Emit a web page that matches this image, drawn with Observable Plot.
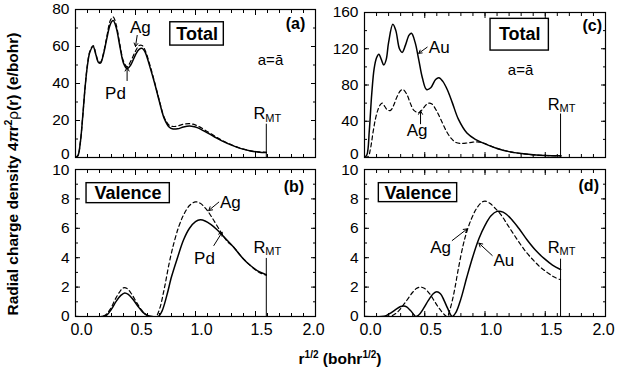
<!DOCTYPE html>
<html><head><meta charset="utf-8">
<script src="https://cdn.jsdelivr.net/npm/d3@7"></script>
<script src="https://cdn.jsdelivr.net/npm/@observablehq/plot@0.6"></script>
<style>
body{margin:0;background:#fff;}
#chart{position:relative;width:633px;height:379px;overflow:hidden;font-family:"Liberation Sans",Arial,Helvetica,sans-serif;color:#000;}
#chart svg{position:absolute;}
.ytitle{position:absolute;left:13px;top:174px;transform:translate(-50%,-50%) rotate(-90deg);white-space:nowrap;font-weight:bold;font-size:15.5px;}
.xtitle{position:absolute;left:340px;top:359px;transform:translate(-50%,-50%);white-space:nowrap;font-weight:bold;font-size:15.5px;}
.sup{font-size:10px;position:relative;top:-6px;}
</style></head><body><div id="chart"></div>
<script>
// ---------- data ----------
// axis ticks
const xTickLabels = [0, 0.5, 1.0, 1.5, 2.0];
const yTicksTotalA = [0, 20, 40, 60, 80];
const yTicksTotalC = [0, 40, 80, 120, 160];
const yTicksValence = [0, 2, 4, 6, 8, 10];

// (a) Total, Pd (solid) and Ag (dashed)
const aX = [0, 0.02, 0.04, 0.06, 0.08, 0.10, 0.12, 0.147, 0.17, 0.19, 0.208, 0.23, 0.26, 0.29, 0.314, 0.34, 0.37, 0.40, 0.43, 0.46, 0.50, 0.53, 0.556, 0.58, 0.62, 0.66, 0.70, 0.74, 0.78, 0.806, 0.85, 0.90, 0.95, 0.98, 1.02, 1.08, 1.15, 1.22, 1.30, 1.38, 1.46, 1.53, 1.59];
const aPd = [0, 1, 8, 22, 38, 50, 57, 60, 55.5, 51.5, 51, 55, 64, 72, 74, 70, 60, 51, 48, 50, 55.5, 58.5, 59, 57, 49, 40, 30, 21, 16.5, 15.5, 15.5, 16.5, 17, 16.8, 16, 14, 11.5, 9, 6.7, 4.8, 3.5, 2.9, 2.7];
const aAg = [0, 1, 8, 22, 38, 50.5, 57.5, 60.5, 56, 52, 51.5, 55.5, 65, 74, 76, 71.5, 61, 52, 49, 52, 57.5, 60.5, 60.5, 58, 50, 40.5, 30.5, 21.5, 17.5, 16.8, 17, 18, 18.3, 18, 17, 14.8, 12, 9.3, 6.9, 4.9, 3.6, 3.0, 2.8];

// (b) Valence, Pd (solid) and Ag (dashed)
const bXPd = [0, 0.22, 0.26, 0.30, 0.34, 0.38, 0.41, 0.44, 0.48, 0.52, 0.56, 0.60, 0.64, 0.69, 0.72, 0.76, 0.80, 0.85, 0.90, 0.95, 1.00, 1.04, 1.08, 1.13, 1.18, 1.25, 1.32, 1.39, 1.46, 1.53, 1.59];
const bPd = [0, 0, 0.1, 0.5, 1.05, 1.45, 1.6, 1.5, 1.15, 0.7, 0.3, 0.07, 0, 0, 0.35, 1.4, 2.7, 4.0, 5.2, 6.0, 6.45, 6.58, 6.5, 6.25, 5.9, 5.3, 4.7, 4.0, 3.45, 3.05, 2.85];
const bXAg = [0, 0.22, 0.25, 0.29, 0.33, 0.37, 0.40, 0.43, 0.47, 0.51, 0.55, 0.59, 0.63, 0.67, 0.70, 0.74, 0.78, 0.82, 0.86, 0.90, 0.95, 1.00, 1.04, 1.09, 1.14, 1.20, 1.26, 1.32, 1.39, 1.46, 1.53, 1.59];
const bAg = [0, 0, 0.1, 0.5, 1.15, 1.7, 1.95, 1.9, 1.5, 0.95, 0.45, 0.12, 0, 0, 0.5, 1.9, 3.6, 5.0, 6.1, 6.9, 7.55, 7.8, 7.7, 7.3, 6.7, 5.9, 5.15, 4.7, 4.0, 3.45, 3.0, 2.8];

// (c) Total, Au (solid) and Ag (dashed)
const cXAu = [0, 0.02, 0.04, 0.06, 0.08, 0.10, 0.119, 0.14, 0.16, 0.18, 0.20, 0.235, 0.26, 0.29, 0.313, 0.34, 0.37, 0.39, 0.42, 0.45, 0.48, 0.515, 0.55, 0.59, 0.617, 0.65, 0.69, 0.73, 0.78, 0.85, 0.92, 1.0, 1.1, 1.2, 1.3, 1.4, 1.5, 1.63];
const cAu = [0, 3, 30, 70, 98, 110, 114, 108, 102, 108, 127, 147, 140, 120, 116, 124, 135, 137, 127, 108, 88, 75, 77, 86, 88, 84, 74, 60, 42, 27, 20, 15, 10, 6.5, 4.3, 3, 2.2, 1.8];
const cXAg = [0, 0.03, 0.05, 0.07, 0.09, 0.11, 0.13, 0.147, 0.17, 0.19, 0.216, 0.24, 0.27, 0.30, 0.32, 0.35, 0.38, 0.41, 0.45, 0.48, 0.51, 0.534, 0.56, 0.60, 0.64, 0.68, 0.72, 0.76, 0.80, 0.85, 0.90, 0.935, 0.98, 1.05, 1.1, 1.2, 1.3, 1.4, 1.5, 1.63];
const cAg = [0, 1, 10, 27, 42, 52, 58, 60, 56, 52.5, 52, 57, 67, 74, 75, 70, 60, 52, 49.5, 53, 58, 60, 59, 51, 40, 29, 21, 16.5, 15.5, 16, 17, 17.2, 16.3, 12.5, 10, 6.5, 4.3, 3, 2.2, 1.8];

// (d) Valence, Au (solid) and Ag (dashed)
const dXAu = [0, 0.14, 0.18, 0.22, 0.26, 0.30, 0.326, 0.35, 0.38, 0.41, 0.423, 0.45, 0.49, 0.53, 0.57, 0.60, 0.63, 0.66, 0.69, 0.728, 0.76, 0.80, 0.85, 0.90, 0.95, 1.00, 1.05, 1.10, 1.15, 1.21, 1.28, 1.35, 1.42, 1.49, 1.56, 1.627];
const dAu = [0, 0, 0.06, 0.25, 0.48, 0.68, 0.72, 0.65, 0.42, 0.12, 0, 0.1, 0.55, 1.1, 1.55, 1.68, 1.55, 1.1, 0.55, 0, 0.3, 1.2, 2.7, 4.1, 5.3, 6.2, 6.85, 7.15, 7.1, 6.7, 6.0, 5.2, 4.5, 3.95, 3.5, 3.2];
const dXAg = [0, 0.2, 0.24, 0.28, 0.32, 0.36, 0.40, 0.43, 0.465, 0.50, 0.54, 0.58, 0.62, 0.66, 0.686, 0.71, 0.74, 0.78, 0.82, 0.85, 0.89, 0.93, 0.97, 1.0, 1.04, 1.08, 1.13, 1.19, 1.27, 1.34, 1.405, 1.46, 1.516, 1.57, 1.627];
const dAg = [0, 0, 0.1, 0.35, 0.75, 1.2, 1.65, 1.9, 2.0, 1.9, 1.55, 1.05, 0.55, 0.15, 0, 0.5, 1.5, 3.3, 4.9, 5.8, 6.7, 7.35, 7.75, 7.85, 7.7, 7.4, 6.95, 6.2, 5.2, 4.4, 3.8, 3.35, 3.0, 2.7, 2.5];

// muffin-tin radii (r^1/2)
const rmtAB = 1.59;
const rmtCD = 1.627;

// ---------- drawing ----------
const FONT = '"Liberation Sans", Arial, Helvetica, sans-serif';
const toPts = (xs, ys) => xs.map((x, i) => ({x, y: ys[i]}));

function panel(cfg) {
  const ML = 45, MR = 14, MT = 14, MB = 32;
  const xMinor = d3.range(0, 21).map(i => i / 10);
  const yMinor = d3.range(0, cfg.yMajor.length * 2 - 1).map(i => i * (cfg.yMajor[1] - cfg.yMajor[0]) / 2);
  const empty = () => "";
  const marks = [];
  // box around panel title
  marks.push(Plot.rect([cfg.box], {x1: "x1", x2: "x2", y1: "y1", y2: "y2", fill: "white", stroke: "black", strokeWidth: 1.4}));
  // curves
  for (const s of cfg.series) {
    marks.push(Plot.line(s.pts, {x: "x", y: "y", curve: "catmull-rom", stroke: "black",
      strokeWidth: s.dash ? 1.2 : 1.5, strokeDasharray: s.dash ? "4,3" : null, clip: true}));
  }
  // R_MT rule
  marks.push(Plot.ruleX([cfg.rmt], {x: "x", y1: 0, y2: "top", stroke: "black", strokeWidth: 1}));
  marks.push(Plot.text([cfg.rmt], {x: "x", y: "ly", text: () => "R", textAnchor: "end", dx: -1, fontSize: 16.5}));
  marks.push(Plot.text([cfg.rmt], {x: "x", y: "ly", text: () => "MT", textAnchor: "start", dx: -1, dy: 4, fontSize: 11}));
  // arrows
  marks.push(Plot.arrow(cfg.arrows, {x1: "x1", y1: "y1", x2: "x2", y2: "y2", stroke: "black", strokeWidth: 1, headLength: 6}));
  // texts
  for (const t of cfg.texts) {
    marks.push(Plot.text([t], {x: "x", y: "y", text: "t", fontSize: t.size || 16,
      fontWeight: t.bold ? "bold" : "normal", textAnchor: t.anchor || "middle"}));
  }
  // frame and ticks (inward, all four sides)
  marks.push(Plot.frame({stroke: "black", strokeWidth: 1.2}));
  for (const anchor of ["bottom", "top"]) {
    marks.push(Plot.axisX({ticks: xMinor, anchor, tickSize: -3, tickFormat: empty, label: null}));
    marks.push(Plot.axisX({ticks: xTickLabels, anchor, tickSize: -5, tickFormat: empty, label: null}));
  }
  for (const anchor of ["left", "right"]) {
    marks.push(Plot.axisY({ticks: yMinor, anchor, tickSize: -3, tickFormat: empty, label: null}));
    marks.push(Plot.axisY({ticks: cfg.yMajor, anchor, tickSize: -5, tickFormat: empty, label: null}));
  }
  const yFmt = d => String(d);
  marks.push(Plot.axisY({ticks: cfg.yMajor.slice(1, -1), anchor: "left", tickSize: 0, tickPadding: 6, tickFormat: yFmt, label: null, fontSize: 15.5}));
  marks.push(Plot.axisY({ticks: cfg.yMajor.slice(0, 1), anchor: "left", tickSize: 0, tickPadding: 6, dy: cfg.zeroDy || 0, tickFormat: yFmt, label: null, fontSize: 15.5}));
  marks.push(Plot.axisY({ticks: cfg.yMajor.slice(-1), anchor: "left", tickSize: 0, tickPadding: 6, dy: cfg.topDy || 0, tickFormat: yFmt, label: null, fontSize: 15.5}));
  if (cfg.xLabels) {
    const fmt = d => d.toFixed(1);
    marks.push(Plot.axisX({ticks: xTickLabels.slice(0, -1), anchor: "bottom", tickSize: 0, tickPadding: 7, dx: 6, tickFormat: fmt, label: null, fontSize: 16}));
    marks.push(Plot.axisX({ticks: xTickLabels.slice(-1), anchor: "bottom", tickSize: 0, tickPadding: 7, dx: -2, tickFormat: fmt, label: null, fontSize: 16}));
  }
  const svg = Plot.plot({
    width: cfg.w + ML + MR, height: cfg.h + MT + MB,
    marginLeft: ML, marginRight: MR, marginTop: MT, marginBottom: MB,
    x: {domain: [0, 2], label: null},
    y: {domain: cfg.yDomain, label: null},
    style: {fontFamily: FONT, fontSize: "16px", background: "transparent", overflow: "visible", color: "black", maxWidth: "none"},
    marks
  });
  svg.style.left = (cfg.left - ML) + "px";
  svg.style.top = (cfg.top - MT) + "px";
  return svg;
}

const chart = document.getElementById("chart");

chart.appendChild(panel({
  left: 75, top: 9, w: 240, h: 148, yDomain: [0, 80], yMajor: yTicksTotalA, xLabels: false, zeroDy: -3, topDy: 0,
  series: [{pts: toPts(aX, aAg), dash: true}, {pts: toPts(aX, aPd), dash: false}],
  box: {x1: 0.79, x2: 1.236, y1: 60.5, y2: 73.1},
  rmt: {x: rmtAB, top: 18, ly: 23.5},
  arrows: [{x1: 0.514, y1: 66, x2: 0.5, y2: 60}, {x1: 0.43, y1: 41.6, x2: 0.43, y2: 48.6}],
  texts: [
    {x: 1.013, y: 66.8, t: "Total", bold: true, size: 18},
    {x: 1.833, y: 72.4, t: "(a)", bold: true, size: 16},
    {x: 1.625, y: 52.4, t: "a=\u0101", size: 15},
    {x: 0.54, y: 70.5, t: "Ag", size: 17},
    {x: 0.333, y: 34.4, t: "Pd", size: 17}
  ]
}));

chart.appendChild(panel({
  left: 75, top: 169, w: 240, h: 147, yDomain: [0, 10], yMajor: yTicksValence, xLabels: true, zeroDy: 0, topDy: 1,
  series: [{pts: toPts(bXAg, bAg), dash: true}, {pts: toPts(bXPd, bPd), dash: false}],
  box: {x1: 0.092, x2: 0.786, y1: 7.71, y2: 9.07},
  rmt: {x: rmtAB, top: 3.95, ly: 4.7},
  arrows: [{x1: 1.194, y1: 7.78, x2: 1.11, y2: 7.21}, {x1: 1.153, y1: 4.83, x2: 1.222, y2: 5.73}],
  texts: [
    {x: 0.4375, y: 8.39, t: "Valence", bold: true, size: 18},
    {x: 1.82, y: 8.8, t: "(b)", bold: true, size: 16},
    {x: 1.29, y: 7.78, t: "Ag", size: 17},
    {x: 1.075, y: 3.92, t: "Pd", size: 17}
  ]
}));

chart.appendChild(panel({
  left: 364, top: 12, w: 241, h: 145, yDomain: [0, 160], yMajor: yTicksTotalC, xLabels: false, zeroDy: -3, topDy: 0,
  series: [{pts: toPts(cXAg, cAg), dash: true}, {pts: toPts(cXAu, cAu), dash: false}],
  box: {x1: 1.046, x2: 1.53, y1: 118, y2: 153},
  rmt: {x: rmtCD, top: 48, ly: 58.5},
  arrows: [{x1: 0.52, y1: 121.7, x2: 0.45, y2: 115}, {x1: 0.465, y1: 37.2, x2: 0.465, y2: 51.5}],
  texts: [
    {x: 1.288, y: 135.5, t: "Total", bold: true, size: 18},
    {x: 1.89, y: 145.7, t: "(c)", bold: true, size: 16},
    {x: 1.295, y: 96, t: "a=\u0101", size: 15},
    {x: 0.62, y: 121.7, t: "Au", size: 17},
    {x: 0.437, y: 29.8, t: "Ag", size: 17}
  ]
}));

chart.appendChild(panel({
  left: 364, top: 169, w: 241, h: 147, yDomain: [0, 10], yMajor: yTicksValence, xLabels: true, zeroDy: 0, topDy: 1,
  series: [{pts: toPts(dXAg, dAg), dash: true}, {pts: toPts(dXAu, dAu), dash: false}],
  box: {x1: 0.119, x2: 0.769, y1: 7.78, y2: 9.07},
  rmt: {x: rmtCD, top: 3.9, ly: 4.7},
  arrows: [{x1: 0.728, y1: 5.17, x2: 0.852, y2: 5.96}, {x1: 1.06, y1: 4.15, x2: 0.949, y2: 4.99}],
  texts: [
    {x: 0.444, y: 8.41, t: "Valence", bold: true, size: 18},
    {x: 1.861, y: 8.9, t: "(d)", bold: true, size: 16},
    {x: 0.631, y: 4.67, t: "Ag", size: 17},
    {x: 1.156, y: 3.8, t: "Au", size: 17}
  ]
}));

const yt = document.createElement("div");
yt.className = "ytitle";
yt.innerHTML = 'Radial charge density 4<i>\u03c0</i>r<span class="sup">2</span><span style="font-weight:normal">\u03c1</span>(r) (e/bohr)';
chart.appendChild(yt);
const xt = document.createElement("div");
xt.className = "xtitle";
xt.innerHTML = 'r<span class="sup">1/2</span> (bohr<span class="sup">1/2</span>)';
chart.appendChild(xt);
</script></body></html>
